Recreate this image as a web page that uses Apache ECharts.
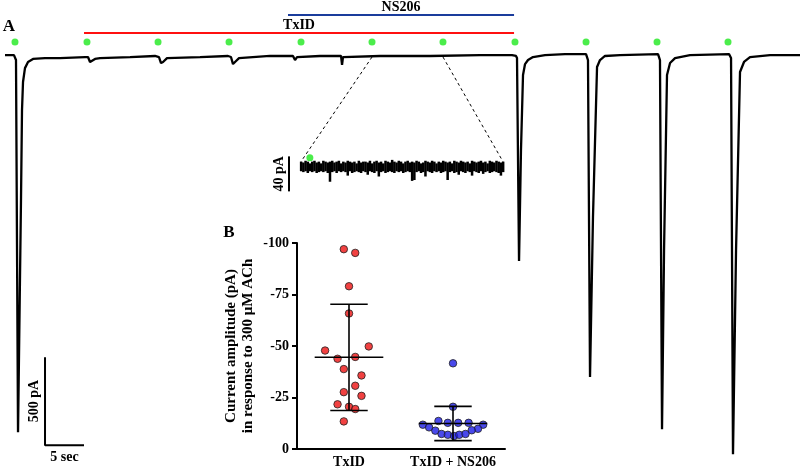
<!DOCTYPE html>
<html><head><meta charset="utf-8">
<script src="https://cdn.jsdelivr.net/npm/echarts/dist/echarts.min.js"></script>
<style>html,body{margin:0;padding:0;background:#fff}#c{width:800px;height:470px}</style>
</head><body><div id="c"></div><script>
// ---------- Panel A: whole-cell current trace (time s, current pA, baseline = 0) ----------
const traceTime = [0, 1.15, 1.28, 1.41, 1.67, 2.05, 2.18, 2.31, 2.56, 2.95, 3.59, 5.13, 7.05, 10.26, 10.64, 10.90, 11.15, 11.54, 12.18, 16.03, 19.23, 19.74, 20.00, 20.26, 20.77, 25.00, 28.59, 28.97, 29.23, 29.49, 30.00, 33.97, 36.92, 37.18, 37.44, 40.38, 43.08, 43.21, 43.33, 48.08, 54.49, 60.90, 65.00, 65.51, 65.64, 65.90, 66.15, 66.41, 66.67, 67.05, 67.69, 69.23, 71.79, 74.49, 74.74, 75.00, 75.38, 75.90, 76.28, 76.92, 78.85, 83.72, 83.97, 84.23, 84.49, 84.87, 85.26, 85.90, 87.82, 92.82, 93.08, 93.33, 93.72, 94.23, 94.74, 95.51, 98.08, 101.92];
const traceCurrent = [11, 11, 0, -17, -2131, -813, -301, -142, -63, -28, -11, -6, -6, 0, 0, -28, -34, -11, -6, 0, 6, 0, -34, -28, -6, 0, 6, 0, -40, -28, -6, 6, 6, -17, 0, 6, 6, -45, 0, 6, 6, 11, 11, 6, -6, -1159, -528, -102, -40, -17, 0, 11, 17, 17, -17, -1818, -909, -57, -17, 6, 11, 17, -17, -2114, -1097, -102, -34, -6, 11, 17, -6, -2256, -1097, -85, -28, 0, 11, 11];
const achTimes = [1.28, 10.51, 19.62, 28.72, 37.95, 47.05, 56.15, 65.38, 74.49, 83.59, 92.69];
const achLevel = 85;
const txidPeriod = [10.13, 65.26], txidLevel = 136;
const ns206Period = [36.28, 65.26], ns206Level = 239;
const scaleBarOrigin = [5.13, -2205];
const scaleBarTime = 5, scaleBarCurrent = 500;

// ---------- Inset: expanded segment between two ACh applications (min/max envelope per 0.1 s bin) ----------
const insetStart = 47.05, insetEnd = 56.15, insetBin = 0.1;
const insetMax = [5,4,6,5,3,5,6,4,5,3, 6,5,4,5,6,4,5,6,3,5, 4,6,5,4,5,3,6,4,5,5, 4,6,3,5,6,4,5,3,6,5, 4,7,5,4,6,5,3,5,6,4, 5,4,6,5,3,4,6,5,4,6, 5,3,5,4,6,5,4,5,3,6, 5,4,6,5,4,5,3,6,5,4, 5,6,4,5,3,6,5,4,6,5, 4,5];
const insetMin = [-6,-7,-6,-8,-6,-7,-6,-8,-7,-6, -7,-6,-8,-18,-7,-6,-8,-6,-7,-6, -7,-11,-6,-8,-7,-6,-7,-8,-6,-7, -10,-6,-7,-8,-6,-12,-7,-6,-8,-7, -6,-7,-8,-6,-7,-6,-8,-7,-6,-7, -17,-16,-7,-6,-8,-7,-12,-6,-7,-8, -6,-7,-6,-8,-7,-6,-16,-7,-6,-8, -7,-10,-6,-7,-8,-6,-7,-11,-6,-7, -8,-6,-9,-7,-6,-8,-7,-6,-7,-8, -11,-7];
const insetAch = [47.45, 9.5];
const insetScaleBar = 40;

// ---------- Panel B ----------
const groups = ['TxID', 'TxID + NS206'];
const txidAmplitudes = [-97, -95.2, -79, -65.8, -47.8, -49.8, -43.8, -44.7, -38.8, -35.7, -30.7, -27.6, -25.8, -21.7, -20.5, -19.4, -13.4];
const txidSpread = [-0.05, 0.06, 0, 0, -0.23, 0.19, -0.11, 0.06, -0.05, 0.12, 0.06, -0.05, 0.12, -0.11, 0, 0.06, -0.05];
const ns206Amplitudes = [-41.6, -20.5, -13.6, -12.7, -12.7, -12.7, -11.8, -11.8, -10.5, -9.8, -8.9, -9.1, -7.3, -6.9, -6.3, -6.9, -7.3];
const ns206Spread = [0, 0, -0.14, -0.05, 0.05, 0.15, -0.29, 0.29, -0.23, 0.24, -0.17, 0.18, -0.11, -0.05, 0.01, 0.06, 0.12];
const yTicks = [-100, -75, -50, -25, 0];

const FONT = 'Liberation Serif';
function stats(a){const m=a.reduce((s,v)=>s+v,0)/a.length;const sd=Math.sqrt(a.reduce((s,v)=>s+(v-m)*(v-m),0)/(a.length-1));return [m,sd];}
const sTx = stats(txidAmplitudes), sNs = stats(ns206Amplitudes);

const traceData = traceTime.map((t,i)=>[t, traceCurrent[i]]);
const insetData = insetMax.map((v,i)=>[insetStart + i*insetBin, insetMin[i], v]);
const [sbT, sbI] = scaleBarOrigin;
const insetBarT = insetStart - 0.54;

const chart = echarts.init(document.getElementById('c'));
const hiddenVal = (gi, min, max) => ({type:'value', gridIndex: gi, min, max, show:false});
chart.setOption({
  animation: false,
  grid: [
    {left: 5, top: 0, width: 795, height: 470},
    {left: 287, top: 148.5, width: 216, height: 45.5},
    {left: 297, top: 243, width: 208, height: 206}
  ],
  xAxis: [
    hiddenVal(0, 0, 101.92),
    hiddenVal(1, insetStart - 0.63, insetEnd),
    {type:'category', gridIndex: 2, data: groups, boundaryGap: true,
     axisLine:{onZero:false, lineStyle:{color:'#000', width:2}},
     axisTick:{alignWithLabel:true, length:5, lineStyle:{color:'#000', width:2}},
     axisLabel:{interval:0, color:'#000', fontFamily:FONT, fontWeight:'bold', fontSize:14, margin:6}},
    hiddenVal(2, -0.5, 1.5)
  ],
  yAxis: [
    hiddenVal(0, -2346, 324),
    hiddenVal(1, -32, 20),
    {type:'value', gridIndex: 2, min: yTicks[0], max: yTicks[yTicks.length-1], interval: 25, inverse: true,
     name: 'Current amplitude (pA)\nin response to 300 μM ACh', nameLocation:'middle', nameGap: 40, nameRotate: 90,
     nameTextStyle:{color:'#000', fontFamily:FONT, fontWeight:'bold', fontSize:15, lineHeight:17},
     axisLine:{show:true, onZero:false, lineStyle:{color:'#000', width:2}},
     axisTick:{show:true, length:5, lineStyle:{color:'#000', width:2}},
     splitLine:{show:false},
     axisLabel:{color:'#000', fontFamily:FONT, fontWeight:'bold', fontSize:14, margin:8}}
  ],
  series: [
    {type:'line', xAxisIndex:0, yAxisIndex:0, data: traceData, showSymbol:false, symbol:'none',
     lineStyle:{color:'#000', width:2.3}, silent:true, z:2},
    {type:'scatter', xAxisIndex:0, yAxisIndex:0, data: achTimes.map(t=>[t, achLevel]), symbolSize:7,
     itemStyle:{color:'#1ee81e'}, silent:true, z:3,
     markLine:{silent:true, symbol:['none','none'], animation:false,
       data:[
         [{coord:[txidPeriod[0], txidLevel], lineStyle:{color:'#ff1010', width:2, type:'solid'},
           label:{show:true, position:'middle', formatter:'TxID', distance:1, color:'#000', fontFamily:FONT, fontWeight:'bold', fontSize:14}},
          {coord:[txidPeriod[1], txidLevel]}],
         [{coord:[ns206Period[0], ns206Level], lineStyle:{color:'#1a3c9c', width:2, type:'solid'},
           label:{show:true, position:'middle', formatter:'NS206', distance:1, color:'#000', fontFamily:FONT, fontWeight:'bold', fontSize:14}},
          {coord:[ns206Period[1], ns206Level]}]
       ]}},
    {type:'line', xAxisIndex:0, yAxisIndex:0, data: [[sbT, sbI + scaleBarCurrent],[sbT, sbI],[sbT + scaleBarTime, sbI]],
     showSymbol:false, symbol:'none', lineStyle:{color:'#000', width:2}, silent:true},
    {type:'custom', xAxisIndex:1, yAxisIndex:1, data: insetData, silent:true, clip:false,
     renderItem:(params, api)=>{
       const a=api.coord([api.value(0), api.value(2)]), b=api.coord([api.value(0), api.value(1)]);
       const w = api.size([insetBin, 0])[0];
       return {type:'rect', shape:{x:a[0]-w/2, y:a[1], width:w+0.3, height:Math.max(1,b[1]-a[1])}, style:{fill:'#000'}};
     }},
    {type:'scatter', xAxisIndex:1, yAxisIndex:1, data:[insetAch], symbolSize:7, itemStyle:{color:'#1ee81e'}, silent:true, z:5},
    {type:'line', xAxisIndex:1, yAxisIndex:1, data: [[insetBarT, 11],[insetBarT, 11 - insetScaleBar]],
     showSymbol:false, symbol:'none', lineStyle:{color:'#000', width:2}, silent:true, clip:false},
    {type:'scatter', xAxisIndex:3, yAxisIndex:2, data: txidAmplitudes.map((v,i)=>[txidSpread[i], v]),
     symbolSize:7.5, itemStyle:{color:'#ee1111', borderColor:'#222', borderWidth:1}, z:3},
    {type:'scatter', xAxisIndex:3, yAxisIndex:2, data: ns206Amplitudes.map((v,i)=>[1 + ns206Spread[i], v]),
     symbolSize:7.5, itemStyle:{color:'#1c1ce6', borderColor:'#222', borderWidth:1}, z:3},
    {type:'custom', xAxisIndex:3, yAxisIndex:2, data:[[0, sTx[0], sTx[1]],[1, sNs[0], sNs[1]]], z:4, clip:false,
     renderItem:(params, api)=>{
       const x=api.value(0), m=api.value(1), s=api.value(2);
       const mh=0.33, ch=0.18;
       const segs=[[[x-mh,m],[x+mh,m]],[[x,m-s],[x,m+s]],[[x-ch,m-s],[x+ch,m-s]],[[x-ch,m+s],[x+ch,m+s]]];
       return {type:'group', children: segs.map(sg=>{const a=api.coord(sg[0]), b=api.coord(sg[1]);
         return {type:'line', shape:{x1:a[0],y1:a[1],x2:b[0],y2:b[1]}, style:{stroke:'#000', lineWidth:1.6}};})};
     }}
  ]
});

// annotations positioned from the coordinate systems
const P0 = v => chart.convertToPixel({gridIndex:0}, v);
const P1 = v => chart.convertToPixel({gridIndex:1}, v);
const txt = (text, x, y, size, rot) => ({type:'text', x, y, rotation: rot||0, silent:true,
  style:{text, fontFamily:FONT, fontWeight:'bold', fontSize:size, fill:'#000', textAlign:'center', align:'center', textVerticalAlign:'middle', verticalAlign:'middle'}});
const seg = (a, b, dash) => ({type:'line', silent:true, shape:{x1:a[0],y1:a[1],x2:b[0],y2:b[1]},
  style:{stroke:'#000', lineWidth:1, lineDash: dash ? [3,3] : null}});
const vb = P0([sbT, sbI + scaleBarCurrent/2]);
const hb = P0([sbT + scaleBarTime/2, sbI]);
const ib = P1([insetBarT, 11 - insetScaleBar/2]);
chart.setOption({graphic: [
  txt('A', 9, 27, 17),
  txt('B', 229, 233, 17),
  txt('500 pA', vb[0] - 11, vb[1], 14, Math.PI/2),
  txt('5 sec', hb[0], hb[1] + 12, 14),
  txt('40 pA', ib[0] - 10, ib[1], 14, Math.PI/2),
  seg(P0([insetStart, 0]), P1([insetStart, 5]), true),
  seg(P0([insetEnd, 0]), P1([insetEnd, 5]), true)
]});
</script></body></html>
